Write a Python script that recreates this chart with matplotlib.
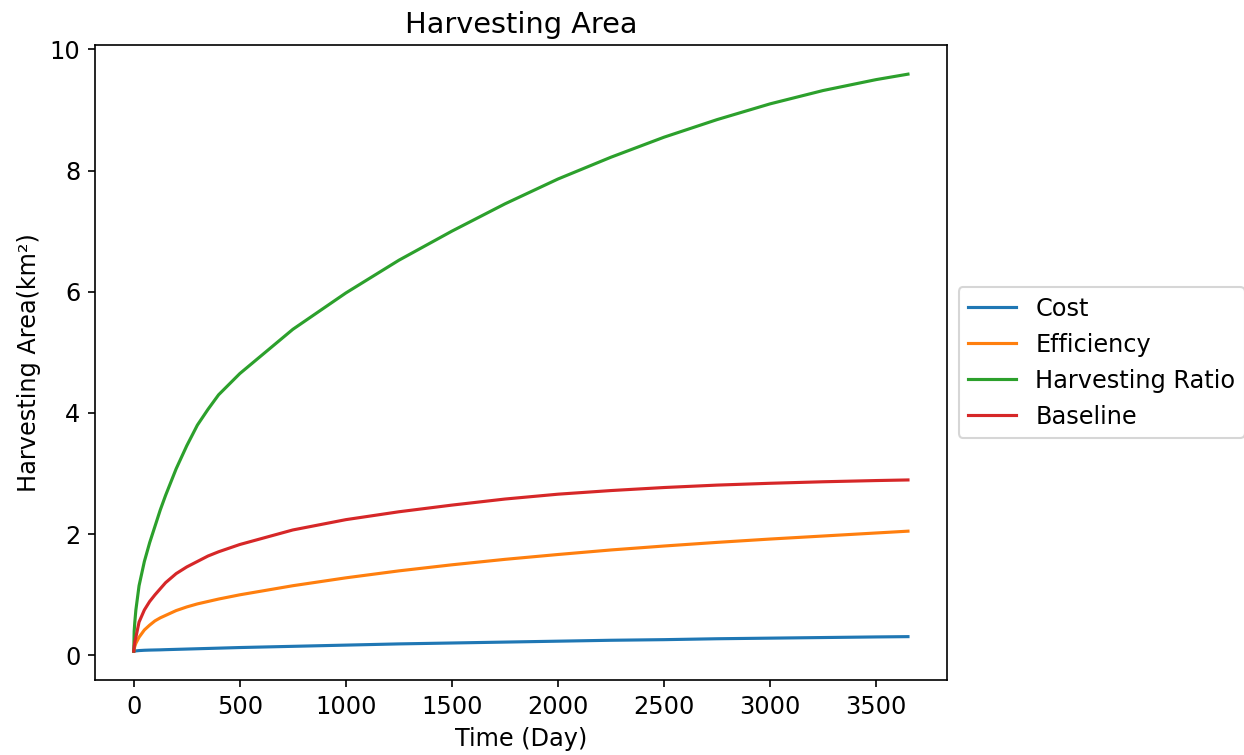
import numpy as np
import matplotlib
matplotlib.use("Agg")
import matplotlib.pyplot as plt

plt.rcParams["font.size"] = 11.5

# days
t = np.array([0, 2, 5, 10, 25, 50, 75, 100, 125, 150, 200, 250, 300, 350, 400,
              500, 750, 1000, 1250, 1500, 1750, 2000, 2250, 2500, 2750, 3000,
              3250, 3500, 3650])

cost = np.array([0.07, 0.071, 0.072, 0.075, 0.08, 0.085, 0.088, 0.09, 0.092,
                 0.095, 0.10, 0.105, 0.11, 0.115, 0.12, 0.13, 0.15, 0.17, 0.19,
                 0.205, 0.22, 0.235, 0.25, 0.26, 0.275, 0.285, 0.295, 0.305, 0.31])
efficiency = np.array([0.07, 0.11, 0.15, 0.2, 0.3, 0.42, 0.5, 0.57, 0.62, 0.66,
                       0.74, 0.8, 0.85, 0.89, 0.93, 1.0, 1.15, 1.28, 1.395, 1.495,
                       1.585, 1.665, 1.74, 1.805, 1.865, 1.92, 1.97, 2.02, 2.05])
ratio = np.array([0.07, 0.4, 0.55, 0.75, 1.15, 1.55, 1.86, 2.13, 2.4, 2.64,
                  3.08, 3.46, 3.8, 4.06, 4.3, 4.65, 5.38, 5.98, 6.52, 7.0, 7.45,
                  7.86, 8.22, 8.55, 8.84, 9.1, 9.32, 9.5, 9.59])
baseline = np.array([0.07, 0.15, 0.22, 0.3, 0.55, 0.75, 0.89, 1.0, 1.1, 1.2,
                     1.35, 1.46, 1.55, 1.64, 1.71, 1.83, 2.07, 2.24, 2.37, 2.48,
                     2.58, 2.66, 2.72, 2.77, 2.81, 2.84, 2.865, 2.885, 2.895])

fig = plt.figure(figsize=(1244/150, 755/150), dpi=150)
ax = fig.add_subplot(111)
fig.subplots_adjust(left=0.0764, right=0.761, top=0.940, bottom=0.0993)

ax.plot(t, cost, label="Cost")
ax.plot(t, efficiency, label="Efficiency")
ax.plot(t, ratio, label="Harvesting Ratio")
ax.plot(t, baseline, label="Baseline")

ax.set_title("Harvesting Area")
ax.set_xlabel("Time (Day)")
ax.set_ylabel("Harvesting Area(km²)")
ax.legend(loc="center left", bbox_to_anchor=(1.0, 0.5))

fig.savefig("out.png", dpi=150)
